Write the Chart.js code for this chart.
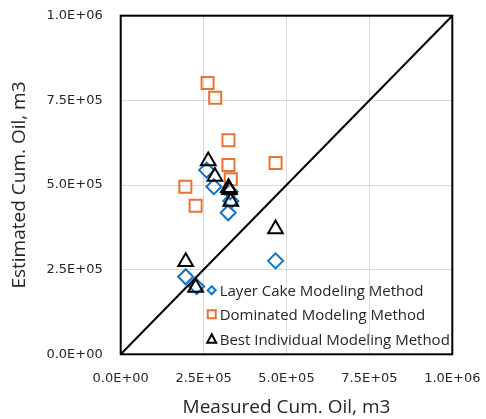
<!DOCTYPE html>
<html>
<head>
<meta charset="utf-8">
<script src="https://cdn.jsdelivr.net/npm/chart.js@4/dist/chart.umd.min.js"></script>
<style>
  html, body { margin: 0; padding: 0; background: #fff; }
  #wrap { width: 486px; height: 419px; position: relative; }
</style>
</head>
<body>
<div id="wrap"><canvas id="chart" width="486" height="419"></canvas></div>
<script>
// ---- data (m3) ----
const layerCakeX = [2.59e5, 2.81e5, 3.30e5, 3.32e5, 3.24e5, 4.67e5, 1.96e5, 2.29e5];
const layerCakeY = [5.44e5, 4.95e5, 4.80e5, 4.53e5, 4.18e5, 2.76e5, 2.29e5, 2.00e5];

const dominatedX = [2.62e5, 2.85e5, 3.25e5, 3.25e5, 4.67e5, 3.32e5, 1.95e5, 2.26e5];
const dominatedY = [8.01e5, 7.58e5, 6.32e5, 5.59e5, 5.65e5, 5.17e5, 4.95e5, 4.39e5];

const bestX = [2.64e5, 2.84e5, 3.25e5, 3.28e5, 3.32e5, 4.67e5, 1.96e5, 2.26e5];
const bestY = [5.71e5, 5.25e5, 4.92e5, 4.86e5, 4.51e5, 3.70e5, 2.73e5, 1.97e5];

const unityX = [0, 1e6];
const unityY = [0, 1e6];

const tickValues = [0, 2.5e5, 5e5, 7.5e5, 1e6];
const tickLabels = ['0.0E+00', '2.5E+05', '5.0E+05', '7.5E+05', '1.0E+06'];

const seriesNames = ['Layer Cake Modeling Method', 'Dominated Modeling Method', 'Best Individual Modeling Method'];

const BLUE = '#0F74C8';
const ORANGE = '#E97132';
const TEXT = '#262626';
const FONT = "'Open Sans', sans-serif";
const TICK_FONT = "'DejaVu Sans', sans-serif";

function toPoints(xs, ys) {
    return xs.map((x, i) => ({ x: x, y: ys[i] }));
}

function fmtTick(value) {
    const idx = tickValues.indexOf(value);
    return idx >= 0 ? tickLabels[idx] : '';
}

// drop the label overhang padding so the plot area sits where layout.padding says
function noOverhang(scale) {
    scale.paddingTop = 0;
    scale.paddingBottom = 0;
    scale.paddingLeft = 0;
    scale.paddingRight = 0;
}

// plot frame + in-plot legend (Excel style)
const frameLegend = {
    id: 'frameLegend',
    afterDatasetsDraw(chart) {
        const { ctx, chartArea: a } = chart;
        ctx.save();
        ctx.strokeStyle = '#000';
        ctx.lineWidth = 2;
        ctx.strokeRect(a.left, a.top, a.right - a.left, a.bottom - a.top);

        const mx = a.left + 91;
        const rows = [a.bottom - 64, a.bottom - 40, a.bottom - 15];
        ctx.font = '15px ' + FONT;
        ctx.textBaseline = 'middle';
        ctx.textAlign = 'left';
        rows.forEach((y, i) => {
            ctx.beginPath();
            ctx.lineWidth = 2;
            if (i === 0) {
                ctx.strokeStyle = BLUE;
                ctx.moveTo(mx, y - 4); ctx.lineTo(mx + 4, y); ctx.lineTo(mx, y + 4); ctx.lineTo(mx - 4, y); ctx.closePath();
            } else if (i === 1) {
                ctx.strokeStyle = ORANGE;
                ctx.rect(mx - 4, y - 4, 8, 8);
            } else {
                ctx.strokeStyle = '#000';
                ctx.moveTo(mx, y - 5); ctx.lineTo(mx + 4.5, y + 3.5); ctx.lineTo(mx - 4.5, y + 3.5); ctx.closePath();
            }
            ctx.stroke();
            ctx.fillStyle = TEXT;
            ctx.fillText(seriesNames[i], mx + 8, y + 1);
        });
        ctx.restore();
    }
};

const ctx = document.getElementById('chart').getContext('2d');
new Chart(ctx, {
    type: 'scatter',
    data: {
        datasets: [
            {
                label: 'Unity',
                type: 'line',
                data: toPoints(unityX, unityY),
                borderColor: '#000',
                borderWidth: 2,
                pointRadius: 0,
                fill: false,
                order: 0
            },
            {
                label: seriesNames[2],
                data: toPoints(bestX, bestY),
                pointStyle: 'triangle',
                pointRadius: 8.5,
                borderColor: '#000',
                backgroundColor: 'rgba(0,0,0,0)',
                pointBorderWidth: 2,
                order: 1
            },
            {
                label: seriesNames[1],
                data: toPoints(dominatedX, dominatedY),
                pointStyle: 'rect',
                pointRadius: 8.5,
                borderColor: ORANGE,
                backgroundColor: 'rgba(0,0,0,0)',
                pointBorderWidth: 2,
                order: 2
            },
            {
                label: seriesNames[0],
                data: toPoints(layerCakeX, layerCakeY),
                pointStyle: 'rectRot',
                pointRadius: 7.5,
                borderColor: BLUE,
                backgroundColor: 'rgba(0,0,0,0)',
                pointBorderWidth: 2,
                order: 3
            }
        ]
    },
    options: {
        responsive: false,
        animation: false,
        layout: { padding: { left: 0, right: 33.7, top: 15.7, bottom: 0 } },
        plugins: {
            legend: { display: false },
            tooltip: { enabled: false }
        },
        scales: {
            x: {
                type: 'linear',
                min: 0,
                max: 1e6,
                afterFit(scale) { scale.height = 64.7; noOverhang(scale); },
                afterBuildTicks(scale) { scale.ticks = tickValues.map(v => ({ value: v })); },
                grid: { color: '#D9D9D9', lineWidth: 1, drawTicks: false },
                border: { display: false },
                ticks: {
                    callback: fmtTick,
                    maxRotation: 0,
                    autoSkip: false,
                    padding: 17,
                    color: TEXT,
                    font: { family: TICK_FONT, size: 13 }
                },
                title: {
                    display: true,
                    text: 'Measured Cum. Oil, m3',
                    color: TEXT,
                    font: { family: FONT, size: 19 },
                    padding: { top: 0, bottom: 0 }
                }
            },
            y: {
                type: 'linear',
                min: 0,
                max: 1e6,
                afterFit(scale) { scale.width = 120.7; noOverhang(scale); },
                afterBuildTicks(scale) { scale.ticks = tickValues.map(v => ({ value: v })); },
                grid: { color: '#D9D9D9', lineWidth: 1, drawTicks: false },
                border: { display: false },
                ticks: {
                    callback: fmtTick,
                    autoSkip: false,
                    padding: 18,
                    color: TEXT,
                    font: { family: TICK_FONT, size: 13 }
                },
                title: {
                    display: true,
                    text: 'Estimated Cum. Oil, m3',
                    color: TEXT,
                    font: { family: FONT, size: 19 },
                    padding: { top: 8.6, bottom: 0 }
                }
            }
        }
    },
    plugins: [frameLegend]
});
</script>
</body>
</html>
